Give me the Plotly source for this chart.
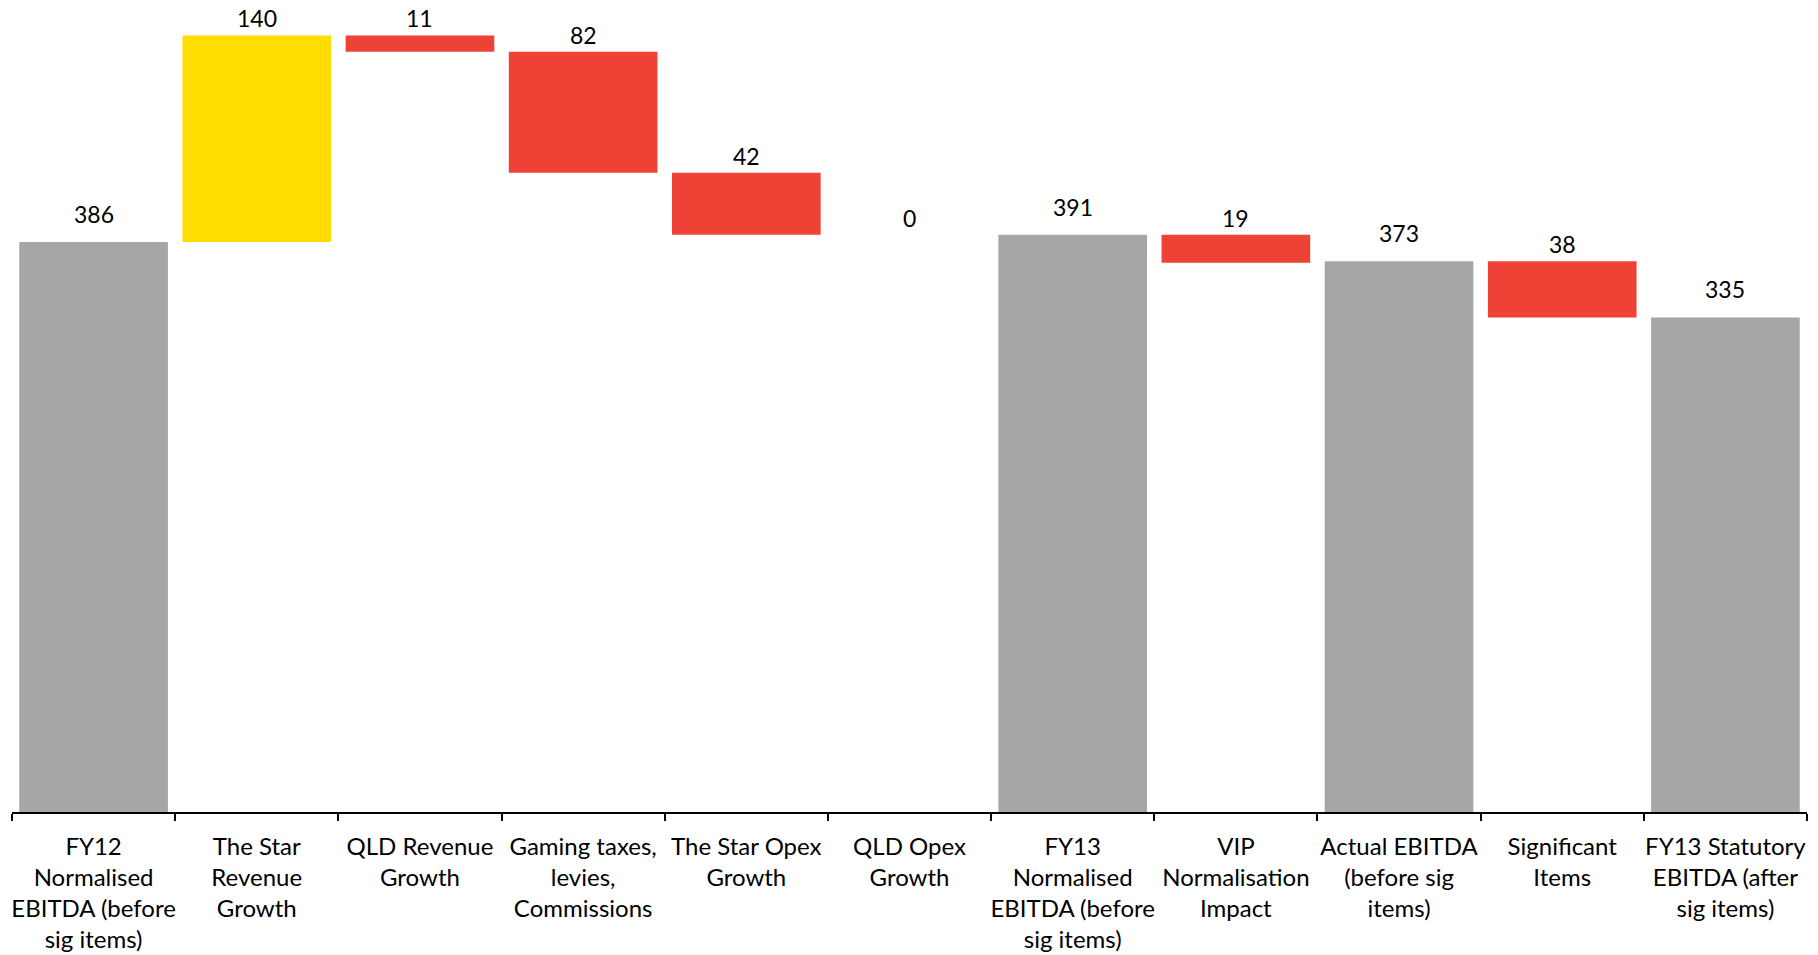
import plotly.graph_objects as go

categories = [
    "FY12<br>Normalised<br>EBITDA (before<br>sig items)",
    "The Star<br>Revenue<br>Growth",
    "QLD Revenue<br>Growth",
    "Gaming taxes,<br>levies,<br>Commissions",
    "The Star Opex<br>Growth",
    "QLD Opex<br>Growth",
    "FY13<br>Normalised<br>EBITDA (before<br>sig items)",
    "VIP<br>Normalisation<br>Impact",
    "Actual EBITDA<br>(before sig<br>items)",
    "Significant<br>Items",
    "FY13 Statutory<br>EBITDA (after<br>sig items)",
]
values = [386, 140, -11, -82, -42, 0, 391, -19, 373, -38, 335]
measures = ["total", "relative", "relative", "relative", "relative", "relative",
            "total", "relative", "total", "relative", "total"]

COL_TOTAL = "#A6A6A6"
COL_UP = "#FFDD00"
COL_DOWN = "#EF4237"

bases, heights, colors, tops = [], [], [], []
running = 0
for v, m in zip(values, measures):
    if m == "total":
        bases.append(0)
        heights.append(v)
        colors.append(COL_TOTAL)
        running = v
    else:
        new = running + v
        bases.append(min(running, new))
        heights.append(abs(v))
        colors.append(COL_UP if v > 0 else COL_DOWN)
        running = new
    tops.append(bases[-1] + heights[-1])

FONT = "Lato, Carlito, Calibri, 'Open Sans', sans-serif"

fig = go.Figure(go.Bar(
    x=categories, y=heights, base=bases,
    marker=dict(color=colors, line=dict(width=0)),
    hoverinfo="skip",
))

for c, v, m, t in zip(categories, values, measures, tops):
    fig.add_annotation(
        x=c, y=t, text=str(abs(v)), showarrow=False,
        yanchor="middle", yshift=28 if m == "total" else 17,
        font=dict(family=FONT, size=23, color="black"),
    )

fig.update_layout(
    width=1818, height=955,
    margin=dict(l=12, r=11, t=0, b=143, autoexpand=False),
    paper_bgcolor="white", plot_bgcolor="white",
    bargap=0.089,
    showlegend=False,
    xaxis=dict(
        type="category", showline=True, linecolor="black", linewidth=2,
        ticks="outside", tickson="boundaries", ticklen=7, tickwidth=1.5,
        tickcolor="black", showgrid=False, tickangle=0, automargin=False,
        ticklabelstandoff=12,
        tickfont=dict(family=FONT, size=24, color="black"),
    ),
    yaxis=dict(visible=False, range=[0, 550], showgrid=False, zeroline=False,
               automargin=False),
)

fig.write_html("out.html")
